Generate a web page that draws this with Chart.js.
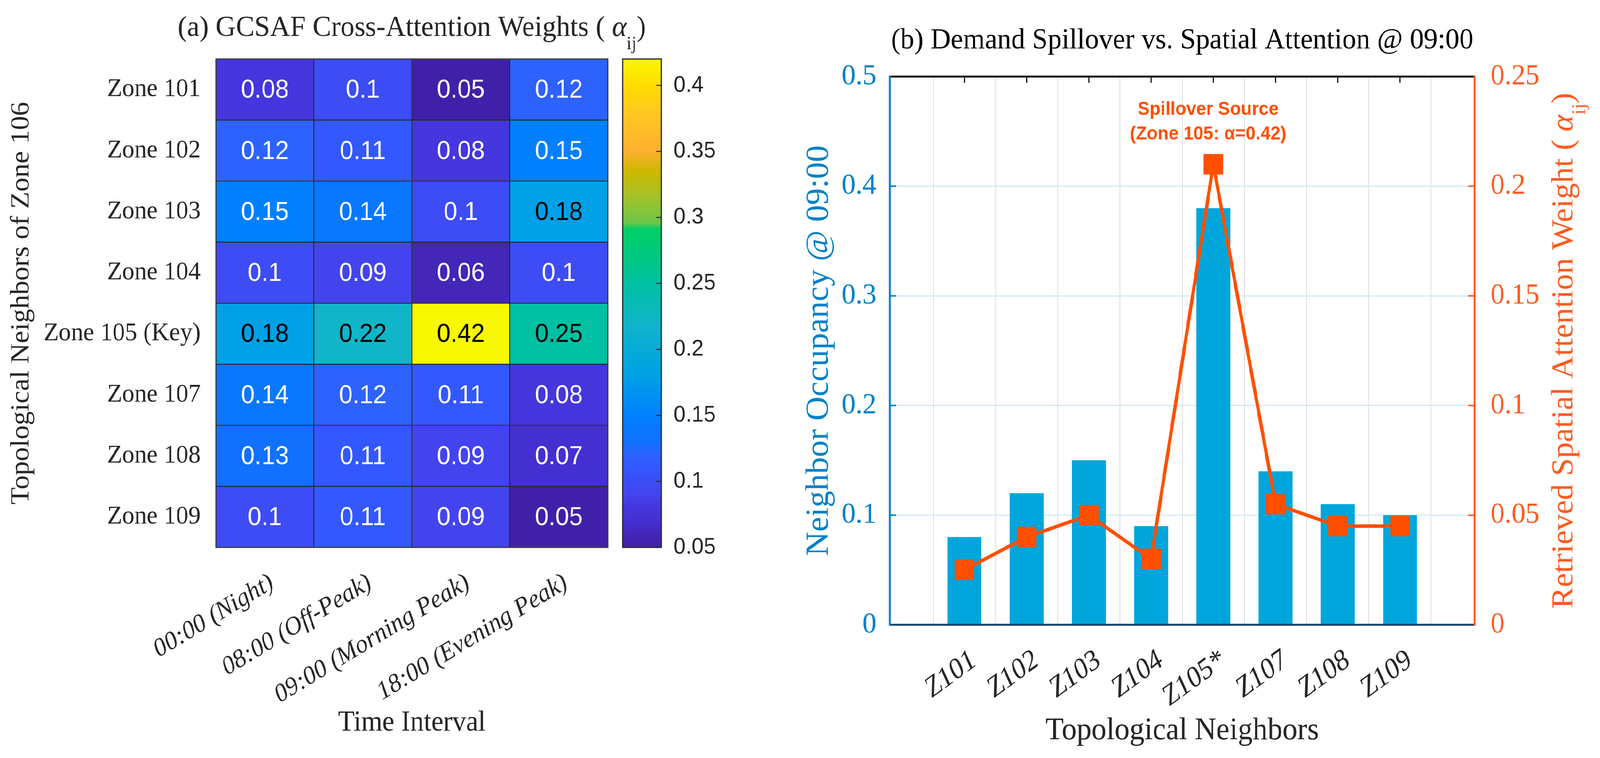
<!DOCTYPE html>
<html>
<head>
<meta charset="utf-8">
<title>GCSAF attention and demand spillover</title>
<script src="https://cdn.jsdelivr.net/npm/chart.js@4.4.1/dist/chart.umd.min.js"></script>
<style>
  html, body { margin: 0; padding: 0; background: #fff; overflow: hidden; }
  #wrap { position: relative; width: 4299px; height: 1940px; transform-origin: 0 0; }
  #heat { position: absolute; left: 0; top: 0; }
  #combo { position: absolute; left: 2150px; top: 0; }
</style>
</head>
<body>
<div id="wrap">
  <canvas id="heat" width="2150" height="1940"></canvas>
  <canvas id="combo" width="2149" height="1940"></canvas>
</div>
<script>
// (a) heatmap data
const timeLabels = ["00:00 (Night)", "08:00 (Off-Peak)", "09:00 (Morning Peak)", "18:00 (Evening Peak)"];
const zoneLabels = ["Zone 101", "Zone 102", "Zone 103", "Zone 104", "Zone 105 (Key)", "Zone 107", "Zone 108", "Zone 109"];
const zone101 = [0.08, 0.1, 0.05, 0.12];
const zone102 = [0.12, 0.11, 0.08, 0.15];
const zone103 = [0.15, 0.14, 0.1, 0.18];
const zone104 = [0.1, 0.09, 0.06, 0.1];
const zone105 = [0.18, 0.22, 0.42, 0.25];
const zone107 = [0.14, 0.12, 0.11, 0.08];
const zone108 = [0.13, 0.11, 0.09, 0.07];
const zone109 = [0.1, 0.11, 0.09, 0.05];
const weights = [zone101, zone102, zone103, zone104, zone105, zone107, zone108, zone109];
const cbTicks = [0.05, 0.1, 0.15, 0.2, 0.25, 0.3, 0.35, 0.4];
const cbMin = 0.05, cbMax = 0.42;

// (b) bar + line data
const neighborLabels = ["Z101", "Z102", "Z103", "Z104", "Z105*", "Z107", "Z108", "Z109"];
const occupancy = [0.08, 0.12, 0.15, 0.09, 0.38, 0.14, 0.11, 0.10];
const attention = [0.025, 0.04, 0.05, 0.03, 0.21, 0.055, 0.045, 0.045];
const occTicks = [0, 0.1, 0.2, 0.3, 0.4, 0.5];
const attTicks = [0, 0.05, 0.1, 0.15, 0.2, 0.25];

// stretch the 4299x1940 drawing onto whatever the viewport really is
const sx = window.innerWidth / 4299, sy = window.innerHeight / 1940;
document.getElementById('wrap').style.transform = `scale(${sx}, ${sy})`;

const SERIF = '"Liberation Serif", "Times New Roman", serif';
const SANS = '"Liberation Sans", Arial, sans-serif';
const textColor = '#262626';
const blueAxis = '#0082C8';
const orangeAxis = '#FF5A1F';
const barColor = '#00A6DB';
const lineColor = '#FF5000';

Chart.defaults.font.family = SERIF;
Chart.defaults.color = textColor;

// colormap close to the one in the figure
const cmapStops = [
  [0.05, '#4020A8'], [0.06, '#4426B8'], [0.07, '#4430D0'], [0.08, '#4536DD'],
  [0.09, '#4444EE'], [0.10, '#3D4CF5'], [0.11, '#3358FF'], [0.12, '#2E62FF'],
  [0.13, '#1270FF'], [0.15, '#0080FF'], [0.18, '#00A0E6'], [0.22, '#10B5C8'],
  [0.25, '#00C0A2'], [0.28, '#00CC72'], [0.291, '#00CE66'], [0.296, '#6CC648'],
  [0.32, '#B0C020'], [0.335, '#CCB800'], [0.35, '#FFB030'], [0.38, '#FFC820'],
  [0.40, '#FFDC00'], [0.42, '#F8F800']
];
function hexRgb(h) {
  return [parseInt(h.slice(1, 3), 16), parseInt(h.slice(3, 5), 16), parseInt(h.slice(5, 7), 16)];
}
function cmap(v) {
  if (v <= cmapStops[0][0]) return cmapStops[0][1];
  for (let i = 1; i < cmapStops.length; i++) {
    if (v <= cmapStops[i][0]) {
      const [v0, c0] = cmapStops[i - 1], [v1, c1] = cmapStops[i];
      const t = (v - v0) / (v1 - v0);
      const a = hexRgb(c0), b = hexRgb(c1);
      return `rgb(${a.map((x, k) => Math.round(x + (b[k] - x) * t)).join(',')})`;
    }
  }
  return cmapStops[cmapStops.length - 1][1];
}

function fmt(v) { return String(Number(v.toFixed(3))); }

// fixed axis sizes, no extra label padding pushed into the layout
function fixSize(w, h) {
  return s => {
    if (w != null) s.width = w;
    if (h != null) s.height = h;
    s.paddingTop = 0; s.paddingBottom = 0; s.paddingLeft = 0; s.paddingRight = 0;
  };
}

// text with a subscript part
function drawRich(ctx, parts, x, y) {
  let total = 0;
  parts.forEach(p => { ctx.font = p.font; p.w = ctx.measureText(p.text).width; total += p.w; });
  let cx = x - total / 2;
  ctx.textAlign = 'left';
  ctx.textBaseline = 'alphabetic';
  parts.forEach(p => { ctx.font = p.font; ctx.fillText(p.text, cx, y + (p.dy || 0)); cx += p.w; });
}

// heatmap: cell numbers, outline, colorbar, title
const heatExtras = {
  id: 'heatExtras',
  afterDatasetsDraw(chart) {
    const ctx = chart.ctx, a = chart.chartArea;
    ctx.save();
    ctx.font = '66px ' + SANS;
    ctx.textAlign = 'center';
    ctx.textBaseline = 'middle';
    chart.data.datasets.forEach((ds, r) => {
      chart.getDatasetMeta(r).data.forEach((el, c) => {
        const v = weights[r][c];
        ctx.fillStyle = v >= 0.18 ? '#000' : '#fff';
        ctx.fillText(String(v), el.x, (el.y + el.base) / 2 + 3);
      });
    });
    ctx.strokeStyle = '#3a3a3a';
    ctx.lineWidth = 3;
    ctx.strokeRect(a.left, a.top, a.right - a.left, a.bottom - a.top);
    ctx.restore();
  },
  afterDraw(chart) {
    const ctx = chart.ctx, cb = chart.scales.cb, a = chart.chartArea;
    const x0 = cb.left + 40, x1 = cb.left + 144;
    const yTop = Math.round(cb.getPixelForValue(cbMax)), yBot = Math.round(cb.getPixelForValue(cbMin));
    ctx.save();
    for (let y = yTop; y < yBot; y++) {
      ctx.fillStyle = cmap(cb.getValueForPixel(y + 0.5));
      ctx.fillRect(x0, y, x1 - x0, 1.5);
    }
    ctx.strokeStyle = textColor;
    ctx.lineWidth = 3;
    ctx.strokeRect(x0, yTop, x1 - x0, yBot - yTop);
    ctx.lineWidth = 2.5;
    ctx.beginPath();
    cb.ticks.forEach(t => {
      const y = cb.getPixelForValue(t.value);
      ctx.moveTo(x1, y);
      ctx.lineTo(x1 - 14, y);
    });
    ctx.stroke();
    ctx.fillStyle = textColor;
    drawRich(ctx, [
      { text: '(a) GCSAF Cross-Attention Weights ( ', font: '75px ' + SERIF },
      { text: 'α', font: 'italic 75px ' + SERIF },
      { text: 'ij', font: '48px ' + SERIF, dy: 34 },
      { text: ')', font: '75px ' + SERIF }
    ], (a.left + a.right) / 2, 92);
    ctx.restore();
  }
};

new Chart(document.getElementById('heat'), {
  type: 'bar',
  data: {
    labels: timeLabels,
    datasets: weights.map((row, r) => ({
      label: zoneLabels[r],
      data: row.map(() => [r + 0.5, r + 1.5]),
      backgroundColor: row.map(v => cmap(v)),
      borderColor: textColor,
      borderWidth: 1.5,
      borderSkipped: false,
      grouped: false,
      barPercentage: 1,
      categoryPercentage: 1
    }))
  },
  options: {
    responsive: false,
    devicePixelRatio: 1,
    animation: false,
    layout: { padding: { top: 151, left: 0, right: 0, bottom: 0 } },
    plugins: { legend: { display: false }, tooltip: { enabled: false } },
    scales: {
      x: {
        grid: { display: false },
        border: { display: false },
        ticks: { font: { size: 66, style: 'italic' }, color: textColor, minRotation: 30, maxRotation: 30, padding: 44, labelOffset: 19, autoSkip: false },
        title: { display: true, text: 'Time Interval', font: { size: 73 }, color: textColor, padding: { bottom: 45 } },
        afterFit: fixSize(null, 539)
      },
      y: {
        type: 'linear',
        reverse: true,
        min: 0.5,
        max: 8.5,
        afterBuildTicks: s => { s.ticks = zoneLabels.map((_, i) => ({ value: i + 1 })); },
        grid: { display: false },
        border: { display: false },
        ticks: { callback: v => zoneLabels[v - 1], font: { size: 66 }, color: textColor, padding: 33, autoSkip: false },
        title: { display: true, text: 'Topological Neighbors of Zone 106', font: { size: 72 }, color: textColor, padding: { top: 15 } },
        afterFit: fixSize(580, null)
      },
      cb: {
        type: 'linear',
        position: 'right',
        min: cbMin,
        max: cbMax,
        afterBuildTicks: s => { s.ticks = cbTicks.map(v => ({ value: v })); },
        grid: { display: false },
        border: { display: false },
        ticks: { callback: v => fmt(v), font: { size: 58, family: SANS }, color: textColor, padding: 169 },
        afterFit: fixSize(517, null)
      }
    }
  },
  plugins: [heatExtras]
});

// (b) frame, inner ticks, annotation, title, right label
const comboExtras = {
  id: 'comboExtras',
  afterDatasetsDraw(chart) {
    const { ctx, scales: { x, y2 } } = chart;
    const k = attention.indexOf(Math.max(...attention));
    const px = x.getPixelForValue(k + 1) - 14;
    ctx.save();
    ctx.fillStyle = lineColor;
    ctx.font = 'bold 48px ' + SANS;
    ctx.textAlign = 'center';
    ctx.textBaseline = 'middle';
    ctx.fillText('Spillover Source', px, y2.getPixelForValue(attention[k] + 0.0249));
    ctx.fillText('(Zone 105: α=0.42)', px, y2.getPixelForValue(attention[k] + 0.0136));
    ctx.restore();
  },
  afterDraw(chart) {
    const { ctx, chartArea: a, scales: { x, y, y2 } } = chart;
    ctx.save();
    ctx.lineCap = 'butt';
    ctx.lineWidth = 4;
    ctx.strokeStyle = blueAxis;
    ctx.beginPath();
    y.ticks.forEach(t => { const py = y.getPixelForValue(t.value); ctx.moveTo(a.left, py); ctx.lineTo(a.left + 17, py); });
    ctx.stroke();
    ctx.strokeStyle = orangeAxis;
    ctx.beginPath();
    y2.ticks.forEach(t => { const py = y2.getPixelForValue(t.value); ctx.moveTo(a.right, py); ctx.lineTo(a.right - 17, py); });
    ctx.stroke();
    ctx.strokeStyle = '#111';
    ctx.lineWidth = 3;
    ctx.beginPath();
    x.ticks.forEach(t => { const px = x.getPixelForValue(t.value); ctx.moveTo(px, a.top); ctx.lineTo(px, a.top + 16); });
    ctx.stroke();

    ctx.lineWidth = 5;
    ctx.strokeStyle = '#111';
    ctx.beginPath(); ctx.moveTo(a.left, a.top); ctx.lineTo(a.right, a.top); ctx.stroke();
    ctx.strokeStyle = '#16406A';
    ctx.beginPath(); ctx.moveTo(a.left, a.bottom); ctx.lineTo(a.right, a.bottom); ctx.stroke();
    ctx.strokeStyle = blueAxis;
    ctx.beginPath(); ctx.moveTo(a.left, a.top - 2.5); ctx.lineTo(a.left, a.bottom + 2.5); ctx.stroke();
    ctx.strokeStyle = orangeAxis;
    ctx.beginPath(); ctx.moveTo(a.right, a.top - 2.5); ctx.lineTo(a.right, a.bottom + 2.5); ctx.stroke();

    ctx.fillStyle = '#000';
    ctx.font = '75px ' + SERIF;
    ctx.textAlign = 'center';
    ctx.textBaseline = 'alphabetic';
    ctx.fillText('(b) Demand Spillover vs. Spatial Attention @ 09:00', (a.left + a.right) / 2, 124);

    ctx.fillStyle = orangeAxis;
    ctx.translate(a.right + 263, (a.top + a.bottom) / 2);
    ctx.rotate(-Math.PI / 2);
    drawRich(ctx, [
      { text: 'Retrieved Spatial Attention Weight ( ', font: '82px ' + SERIF },
      { text: 'α', font: 'italic 82px ' + SERIF },
      { text: 'ij', font: '52px ' + SERIF, dy: 34 },
      { text: ')', font: '82px ' + SERIF }
    ], 0, 0);
    ctx.restore();
  }
};

new Chart(document.getElementById('combo'), {
  type: 'bar',
  data: {
    datasets: [
      {
        type: 'line',
        data: attention.map((v, i) => ({ x: i + 1, y: v })),
        yAxisID: 'y2',
        borderColor: lineColor,
        borderWidth: 9,
        tension: 0,
        pointStyle: 'rect',
        pointRadius: 37,
        pointBackgroundColor: lineColor,
        pointBorderWidth: 0,
        order: 1
      },
      {
        type: 'bar',
        data: occupancy.map((v, i) => ({ x: i + 1, y: v })),
        yAxisID: 'y',
        backgroundColor: barColor,
        barPercentage: 0.545,
        categoryPercentage: 1,
        order: 2
      }
    ]
  },
  options: {
    responsive: false,
    devicePixelRatio: 1,
    animation: false,
    layout: { padding: { top: 196, left: 0, right: 0, bottom: 0 } },
    plugins: { legend: { display: false }, tooltip: { enabled: false } },
    scales: {
      x: {
        type: 'linear',
        min: 0.39,
        max: 8.61,
        afterBuildTicks: s => { s.ticks = neighborLabels.map((_, i) => ({ value: i + 1 })); },
        grid: { color: '#DCDCDC', lineWidth: 2, drawTicks: false },
        border: { display: false },
        ticks: { callback: v => neighborLabels[v - 1], font: { size: 74, style: 'italic' }, color: textColor, minRotation: 35, maxRotation: 35, padding: 48, labelOffset: 26, autoSkip: false },
        title: { display: true, text: 'Topological Neighbors', font: { size: 80 }, color: textColor, padding: { bottom: 21 } },
        afterFit: fixSize(null, 341)
      },
      y: {
        position: 'left',
        min: 0,
        max: 0.5,
        afterBuildTicks: s => { s.ticks = occTicks.map(v => ({ value: v })); },
        grid: { color: '#D3E9F6', lineWidth: 3, drawTicks: false },
        border: { display: false },
        ticks: { callback: v => fmt(v), font: { size: 75 }, color: blueAxis, padding: 36 },
        title: { display: true, text: 'Neighbor Occupancy @ 09:00', font: { size: 86 }, color: blueAxis, padding: { top: 0 } },
        afterFit: fixSize(241, null)
      },
      y2: {
        position: 'right',
        min: 0,
        max: 0.25,
        afterBuildTicks: s => { s.ticks = attTicks.map(v => ({ value: v })); },
        grid: { display: false },
        border: { display: false },
        ticks: { callback: v => fmt(v), font: { size: 75 }, color: orangeAxis, padding: 35 },
        afterFit: fixSize(337, null)
      }
    }
  },
  plugins: [comboExtras]
});
</script>
</body>
</html>
